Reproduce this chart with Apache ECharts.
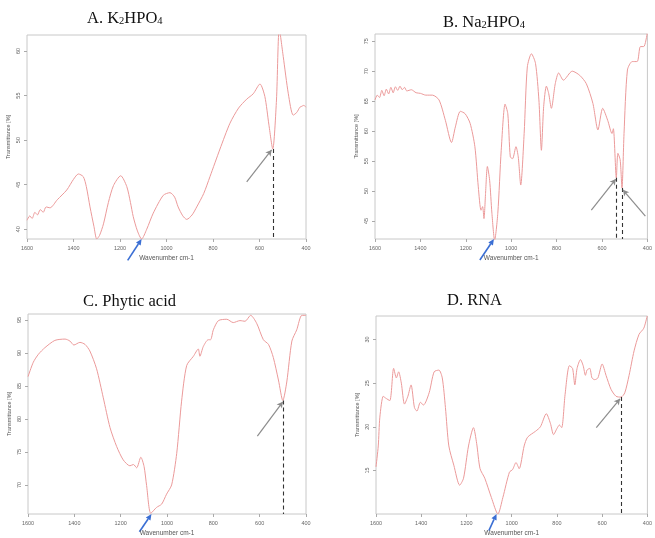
<!DOCTYPE html>
<html>
<head>
<meta charset="utf-8">
<script src="https://cdn.jsdelivr.net/npm/echarts@6/dist/echarts.min.js"></script>
<style>
html, body { margin: 0; padding: 0; background: #fff; }
#ftir { width: 655px; height: 538px; }
</style>
</head>
<body>
<div id="ftir"></div>
<script>
// A. K2HPO4
const aWn = [1600,1588,1578,1566,1555,1543,1530,1518,1501,1470,1429,1400,1379,1358,1345,1329,1312,1300,1288,1271,1250,1228,1197,1171,1155,1143,1125,1107,1085,1057,1014,985,965,950,930,913,890,870,840,813,770,727,690,655,627,598,577,560,543,527,515,498,476,455,440,426,418,410,400];
const aT = [41.0,41.5,41.2,41.9,41.6,42.2,41.9,42.5,42.4,43.3,44.4,45.6,46.2,45.9,44.8,42.5,40.3,38.9,39.3,40.6,43.0,44.9,46.0,44.8,43.0,41.4,39.8,38.9,40.0,41.8,43.8,44.1,43.6,42.5,41.5,41.1,41.6,42.5,44.0,45.9,49.0,51.9,53.6,54.6,55.2,56.3,54.9,51.8,49.0,54.5,62.5,59.4,55.2,52.8,53.1,53.7,53.8,53.9,53.7];

// B. Na2HPO4
const bWn = [1600,1590,1580,1570,1560,1550,1540,1530,1520,1510,1500,1490,1480,1470,1460,1440,1419,1400,1376,1347,1318,1290,1263,1246,1224,1203,1181,1160,1145,1133,1126,1120,1113,1105,1095,1085,1073,1059,1044,1027,1015,1004,994,979,969,958,943,929,911,893,878,867,857,845,835,823,806,791,770,731,698,669,640,618,597,575,556,550,537,530,520,512,503,488,467,445,431,416,401];
const bT = [65.2,66.0,65.6,66.8,65.9,67.0,66.2,67.3,66.4,67.4,66.8,67.5,66.9,67.3,66.7,66.9,66.4,66.3,66.0,66.0,65.2,61.8,58.1,60.7,63.3,62.9,61.3,57.4,50.7,46.8,47.4,45.4,49.6,54.1,51.8,46.3,41.8,46.3,56.8,64.5,62.9,55.7,55.4,57.4,55.7,51.0,59.6,70.7,72.9,71.3,65.2,56.8,64.1,67.5,66.3,63.8,67.9,69.7,68.5,70.0,69.3,67.9,64.6,60.2,63.8,61.8,59.6,60.4,52.2,56.3,55.2,50.5,59.6,70.2,71.6,71.6,74.1,74.1,76.3];

// C. Phytic acid
const cWn = [1600,1577,1555,1527,1484,1440,1419,1402,1376,1354,1333,1304,1275,1246,1217,1189,1160,1145,1131,1113,1099,1088,1070,1045,1023,1002,980,958,937,915,886,865,858,843,822,812,800,778,742,714,685,663,639,613,584,562,541,519,500,483,461,440,418,400];
const cT = [86.4,88.6,89.8,90.8,91.9,92.1,91.8,91.2,91.6,91.3,90.3,87.6,83.2,78.7,75.8,73.8,72.9,73.1,72.6,74.2,72.8,69.9,65.7,66.6,67.1,68.6,70.0,74.8,82.7,88.1,89.5,90.6,89.5,91.0,92.0,92.0,93.5,94.9,95.1,94.6,94.9,94.8,95.7,94.5,92.0,91.3,89.3,85.9,82.8,85.6,91.8,93.5,95.7,95.7];

// D. RNA
const dWn = [1600,1590,1583,1568,1558,1539,1522,1510,1500,1488,1474,1459,1445,1430,1419,1404,1390,1365,1343,1322,1307,1293,1278,1256,1230,1213,1191,1169,1155,1140,1119,1090,1061,1039,1010,996,981,967,945,930,894,873,847,829,815,800,789,779,764,745,731,721,711,696,684,674,667,655,645,633,619,600,583,561,539,517,500,481,459,437,416,401];
const dT = [15.4,17.8,21.1,23.5,23.3,23.0,26.7,25.6,26.3,25.0,22.6,23.5,24.8,22.2,21.8,22.8,22.5,23.9,26.3,26.5,25.6,22.2,17.8,15.6,13.3,14.1,17.8,19.9,18.1,15.2,14.1,11.9,10.0,11.9,14.8,15.1,15.9,15.2,17.8,18.8,19.5,20.0,21.5,20.4,19.1,19.8,20.2,19.9,23.7,27.0,26.7,24.8,26.7,27.7,27.0,25.9,26.5,26.7,25.6,25.4,25.6,27.2,25.9,24.3,23.5,23.4,23.9,25.9,28.7,30.6,31.3,32.7];

const yTicks = [[40,45,50,55,60],[45,50,55,60,65,70,75],[70,75,80,85,90,95],[15,20,25,30]];
const yRange = [[38.9,61.8],[42,76.2],[65.6,95.9],[10,32.7]];

// dashed drop lines: [wavenumber, transmittance at the band]
const dropLines = [[[541,49.0]], [[537,52.2],[512,50.5]], [[497,82.8]], [[517,23.4]]];
// grey arrows pointing at the band: [from, to]
const greyArrows = [
    [[[655,45.3],[548,48.9]]],
    [[[647,46.8],[539,52.0]], [[409,45.8],[508,50.2]]],
    [[[610,77.4],[500,82.6]]],
    [[[626,19.9],[521,23.2]]]
];
// blue arrows under the x axis
const blueArrows = [[[1167,36.5],[1107,38.9]], [[1138,38.5],[1076,42.0]], [[1119,62.9],[1067,65.6]], [[1101,8.1],[1067,10.0]]];

const grids = [
    {left: 27, top: 35, width: 279, height: 204},
    {left: 375, top: 34, width: 277, height: 205},
    {left: 28, top: 314, width: 278, height: 205},
    {left: 376, top: 316, width: 276, height: 204}
];
const spectra = [[aWn, aT], [bWn, bT], [cWn, cT], [dWn, dT]];

const titleStyle = {
    fontFamily: 'Liberation Serif',
    fontSize: 16.5,
    fontWeight: 'normal',
    color: '#111',
    rich: {
        s: {fontFamily: 'Liberation Serif', fontSize: 10.5, fontWeight: 'normal', color: '#111', verticalAlign: 'bottom', padding: [6, 0, 0, 0]}
    }
};

const option = {
    animation: false,
    title: [
        {text: 'A. K{s|2}HPO{s|4}', left: 87, top: 10, padding: 0, textStyle: titleStyle},
        {text: 'B. Na{s|2}HPO{s|4}', left: 443, top: 14, padding: 0, textStyle: titleStyle},
        {text: 'C. Phytic acid', left: 83, top: 293, padding: 0, textStyle: titleStyle},
        {text: 'D. RNA', left: 447, top: 292, padding: 0, textStyle: titleStyle}
    ],
    grid: grids.map(g => Object.assign({show: true, borderColor: '#c8c8c8', borderWidth: 1, backgroundColor: 'transparent'}, g)),
    xAxis: grids.map((g, i) => ({
        type: 'value',
        gridIndex: i,
        inverse: true,
        min: 400,
        max: 1600,
        interval: 200,
        name: 'Wavenumber cm-1',
        nameLocation: 'middle',
        nameGap: 16,
        nameTextStyle: {fontSize: 6.5, color: '#555', fontFamily: 'Liberation Sans'},
        axisLine: {show: false},
        axisTick: {show: true, length: 3, lineStyle: {color: '#aaa'}},
        axisLabel: {fontSize: 5.5, color: '#666', margin: 6, fontFamily: 'Liberation Sans', formatter: v => String(v)},
        splitLine: {show: false}
    })),
    yAxis: grids.map((g, i) => ({
        type: 'value',
        gridIndex: i,
        min: yRange[i][0],
        max: yRange[i][1],
        name: 'Transmittance [%]',
        nameLocation: 'middle',
        nameGap: 16,
        nameTextStyle: {fontSize: 5.5, color: '#555', fontFamily: 'Liberation Sans'},
        axisLine: {show: false},
        axisTick: {show: true, length: 3, lineStyle: {color: '#aaa'}, customValues: yTicks[i]},
        axisLabel: {fontSize: 5.5, color: '#666', margin: 6, rotate: 90, fontFamily: 'Liberation Sans', customValues: yTicks[i]},
        splitLine: {show: false}
    })),
    series: spectra.map((s, i) => ({
        type: 'line',
        xAxisIndex: i,
        yAxisIndex: i,
        data: s[0].map((w, k) => [w, s[1][k]]),
        showSymbol: false,
        smooth: 0.25,
        clip: true,
        lineStyle: {color: '#eb9a9a', width: 1},
        markLine: {
            silent: true,
            animation: false,
            label: {show: false},
            data: dropLines[i].map(p => [
                {coord: p, symbol: 'none', lineStyle: {type: [4, 3], color: '#333', width: 1.1}},
                {coord: [p[0], yRange[i][0]], symbol: 'none'}
            ]).concat(greyArrows[i].map(a => [
                {coord: a[0], symbol: 'none', lineStyle: {type: 'solid', color: '#8c8c8c', width: 1.2}},
                {coord: a[1], symbol: 'arrow', symbolSize: [5, 6]}
            ]))
        }
    }))
};

const chart = echarts.init(document.getElementById('ftir'));
chart.setOption(option);

function arrowGraphic(i, from, to, color) {
    const p0 = chart.convertToPixel({gridIndex: i}, from);
    const p1 = chart.convertToPixel({gridIndex: i}, to);
    const ang = Math.atan2(p1[1] - p0[1], p1[0] - p0[0]);
    const len = 6, half = 2.8;
    const bx = p1[0] - len * Math.cos(ang), by = p1[1] - len * Math.sin(ang);
    return [
        {type: 'line', silent: true, shape: {x1: p0[0], y1: p0[1], x2: bx, y2: by}, style: {stroke: color, lineWidth: 1.6}},
        {type: 'polygon', silent: true, shape: {points: [
            [p1[0], p1[1]],
            [bx + half * Math.sin(ang), by - half * Math.cos(ang)],
            [bx - half * Math.sin(ang), by + half * Math.cos(ang)]
        ]}, style: {fill: color}}
    ];
}

function drawArrows() {
    let els = [];
    blueArrows.forEach((a, i) => { els = els.concat(arrowGraphic(i, a[0], a[1], '#3b6fd4')); });
    chart.setOption({graphic: {elements: els}}, {replaceMerge: ['graphic']});
}
drawArrows();

window.addEventListener('resize', function () {
    chart.resize();
    drawArrows();
});
</script>
</body>
</html>
